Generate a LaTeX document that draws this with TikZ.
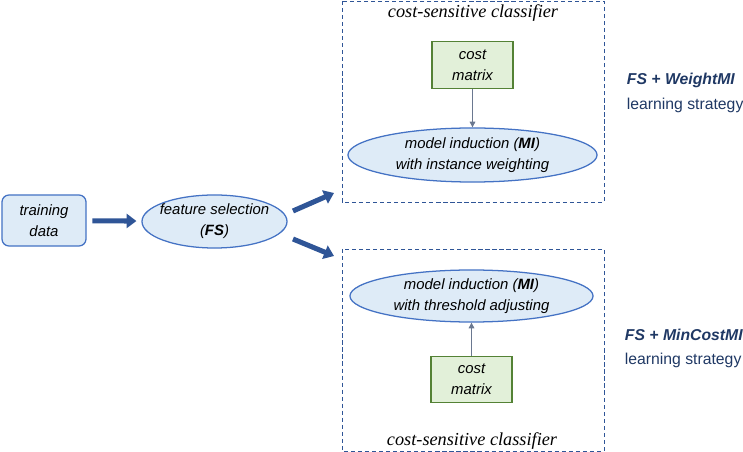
\documentclass[tikz,border=0pt]{standalone}
\usepackage{fontspec}
\setmainfont{Liberation Sans}
\newfontfamily\titlefont{Liberation Serif}
\usepackage[]{tikz}
\usetikzlibrary{positioning,shapes.geometric,arrows.meta}
\definecolor{nodeblue}{HTML}{DEEBF7}
\definecolor{edgeblue}{HTML}{4472C4}
\definecolor{arrowblue}{HTML}{2F5597}
\definecolor{nodegreen}{HTML}{E2F0D9}
\definecolor{edgegreen}{HTML}{548235}
\definecolor{navytext}{HTML}{1F3864}
\definecolor{thingray}{HTML}{6A7890}
\tikzset{datanode/.style={draw=edgeblue,fill=nodeblue,line width=0.9pt,rounded corners=5pt,
        minimum width=2.1cm,minimum height=1.275cm,align=center,font=\fontsize{10.6}{15}\selectfont\itshape},
    procnode/.style={ellipse,draw=edgeblue,fill=nodeblue,line width=0.9pt,inner sep=0pt,
        align=center,font=\fontsize{10.6}{15}\selectfont\itshape},
    costnode/.style={draw=edgegreen,fill=nodegreen,line width=0.9pt,minimum width=2.025cm,
        minimum height=1.16cm,align=center,font=\fontsize{10.6}{15}\selectfont\itshape},
    clfbox/.style={draw=arrowblue,dash pattern=on 3pt off 2pt,line width=0.7pt},
    bigarrow/.style={draw=arrowblue,line width=3.6pt,-{Triangle[length=7pt,width=10pt]}},
    thinarrow/.style={draw=thingray,line width=0.6pt,-{Triangle[length=4pt,width=4pt]}}}

\begin{document}
\begin{tikzpicture}[x=0.025cm,y=-0.025cm]
        \useasboundingbox (0,0) rectangle (743,452);
        % left part
        \node[datanode] (train) at (44,220.5) {training\\data};
        \node[procnode,inner xsep=-4pt,minimum width=3.625cm,minimum height=1.325cm] (fs) at (214.5,221.5)
            {feature selection\\(\textbf{FS})};
        \draw[bigarrow,shorten <=4pt,shorten >=3.5pt] (train) -- (fs);
        \coordinate (up0) at (293,211);
        \coordinate (up1) at (334,193);
        \coordinate (dn0) at (293,239);
        \coordinate (dn1) at (334,256);
        \draw[bigarrow] (up0) -- (up1);
        \draw[bigarrow] (dn0) -- (dn1);
        % upper classifier
        \draw[clfbox] (342,1) rectangle (604,202);
        \node[font=\fontsize{13}{15}\titlefont\itshape] (title1) at (473,13) {cost-sensitive classifier};
        \node[costnode] (cost1) at (472.5,65) {cost\\matrix};
        \node[procnode,minimum width=6.225cm,minimum height=1.35cm] (mi1) at (472.5,155)
            {model induction (\textbf{MI})\\with instance weighting};
        \draw[thinarrow] (cost1) -- (mi1);
        \node[anchor=west,text=navytext,font=\fontsize{11.2}{15}\selectfont\bfseries\itshape] (st1) at (622,80) {FS + WeightMI};
        \node[anchor=west,text=navytext,font=\fontsize{11.2}{15}\selectfont] (ls1) at (622,105) {learning strategy};
        % lower classifier
        \draw[clfbox] (342,249) rectangle (604,451);
        \node[procnode,minimum width=6.075cm,minimum height=1.3cm] (mi2) at (471.5,296)
            {model induction (\textbf{MI})\\with threshold adjusting};
        \node[costnode] (cost2) at (471.5,379.5) {cost\\matrix};
        \draw[thinarrow] (cost2) -- (mi2);
        \node[font=\fontsize{13}{15}\titlefont\itshape] (title2) at (472,441) {cost-sensitive classifier};
        \node[anchor=west,text=navytext,font=\fontsize{11.2}{15}\selectfont\bfseries\itshape] (st2) at (620,335) {FS + MinCostMI};
        \node[anchor=west,text=navytext,font=\fontsize{11.2}{15}\selectfont] (ls2) at (620,360) {learning strategy};
\end{tikzpicture}
\end{document}
